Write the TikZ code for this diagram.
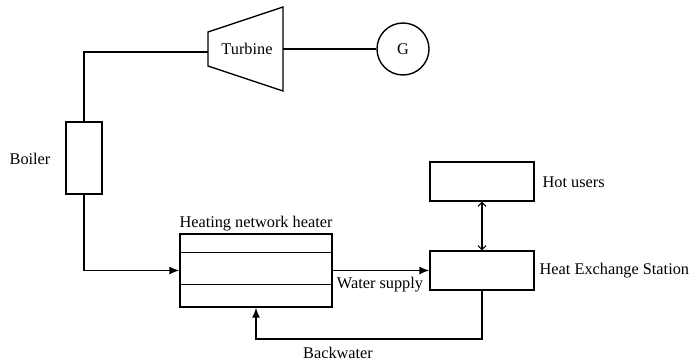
\documentclass[tikz,border=0pt]{standalone}
\usepackage{fontspec}
\setmainfont{Liberation Serif}
\usetikzlibrary{arrows.meta}
\begin{document}
\begin{tikzpicture}[x=1pt,y=-1pt,
  line width=1.4pt,
  every node/.style={font=\fontsize{16.3}{19}\selectfont, inner sep=0pt},
  box/.style={draw, rectangle, line width=1.4pt},
  flow/.style={-{Latex[length=10pt,width=8pt]}},
  dbl/.style={{Straight Barb[length=4pt,width=8pt,line width=1pt]}-{Straight Barb[length=4pt,width=8pt,line width=1pt]}}
]
\useasboundingbox (0,0) rectangle (691,361);
% turbine
\coordinate (tl1) at (208,32);
\coordinate (tr1) at (283,7);
\coordinate (tr2) at (283,91);
\coordinate (tl2) at (208,66);
\draw (tl1) -- (tr1) -- (tr2) -- (tl2) -- cycle;
\node (turb) at (247,49) {Turbine};
\coordinate (tin) at (208,52);
\coordinate (tout) at (283,49);
% generator
\node[draw, circle, minimum size=52pt, line width=1.4pt] (G) at (403,49) {G};
% boiler
\node[box, minimum width=36pt, minimum height=72pt] (boiler) at (84,158) {};
\node (boilerlbl) at (30,159) {Boiler};
% heater
\node[box, minimum width=152pt, minimum height=73pt] (heater) at (256,270.5) {};
\draw ([yshift=-19pt]heater.north west) -- ([yshift=-19pt]heater.north east);
\draw ([yshift=23pt]heater.south west) -- ([yshift=23pt]heater.south east);
\node[anchor=base] (heaterlbl) at (256,227) {Heating network heater};
% heat exchange station
\node[box, minimum width=104pt, minimum height=39pt] (hes) at (482,270.5) {};
\node[anchor=west] (heslbl) at (539,271) {Heat Exchange Station};
% hot users
\node[box, minimum width=104pt, minimum height=39pt] (hot) at (482,181.5) {};
\node[anchor=west] (hotlbl) at (542,182) {Hot users};
% connections
\draw (tout) -- (G.west);
\draw (boiler.north) |- (tin);
\draw[flow] (boiler.south) |- (heater.west);
\draw[flow] (heater.east) -- (hes.west);
\node (ws) at (380,285) {Water supply};
\draw[dbl] (hot.south) -- (hes.north);
\coordinate (bwc) at (482,339);
\draw[flow] (hes.south) -- (bwc) -| (heater.south);
\node (bw) at (338,353) {Backwater};
\end{tikzpicture}
\end{document}
